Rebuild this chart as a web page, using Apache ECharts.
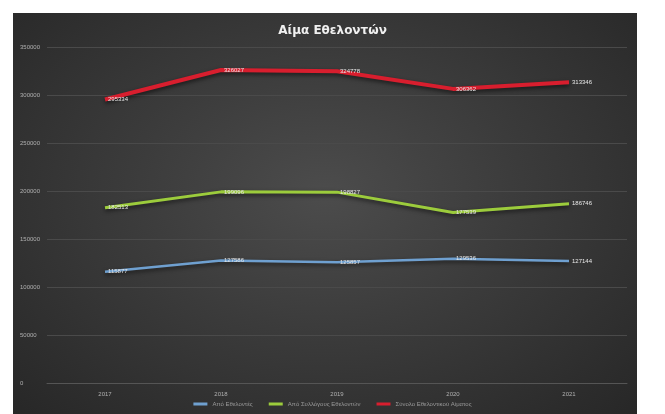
<!DOCTYPE html>
<html><head><meta charset="utf-8">
<script src="https://cdn.jsdelivr.net/npm/echarts@6/dist/echarts.min.js"></script>
<style>
html,body{margin:0;padding:0;background:#fff;}
#bg{position:absolute;left:13px;top:13px;width:624px;height:401px;
background:radial-gradient(ellipse at 50% 45%, #4c4c4c 0%, #3b3b3b 45%, #272727 100%);}
#c{position:absolute;left:0;top:0;width:665px;height:414px;}
</style></head>
<body><div id="bg"></div><div id="c"></div>
<script>
const years = ['2017','2018','2019','2020','2021'];
const seriesNames = ['Από Εθελοντές','Από Συλλόγους Εθελοντών','Σύνολο Εθελοντικού Αίματος'];
const fromVolunteers = [115877, 127586, 125857, 129536, 127144];
const fromAssociations = [182513, 199096, 198827, 177539, 186746];
const totalVolunteer = [295334, 326027, 324778, 306362, 313346];
const yTicks = [0, 50000, 100000, 150000, 200000, 250000, 300000, 350000];

const chart = echarts.init(document.getElementById('c'));
const lbl = {show:true, position:'right', distance:3, color:'#e8e8e8', fontSize:6, fontFamily:'Liberation Sans'};
chart.setOption({
  backgroundColor:'transparent',
  animation:false,
  title:{text:'Αίμα Εθελοντών', left:'center', top:20,
    textStyle:{color:'#f0f0f0', fontSize:12, fontWeight:'bold', fontFamily:'DejaVu Sans'}},
  grid:{left:47, right:38, top:47, bottom:31},
  legend:{bottom:2, left:'center', itemWidth:14, itemHeight:3, itemGap:16, icon:'rect',
    textStyle:{color:'#9a9a9a', fontSize:6, fontFamily:'Liberation Sans'}},
  xAxis:{type:'category', data:years, boundaryGap:true,
    axisLine:{lineStyle:{color:'#555555'}}, axisTick:{show:false},
    axisLabel:{color:'#b0b0b0', fontSize:6, margin:8, fontFamily:'Liberation Sans'}},
  yAxis:{type:'value', min:yTicks[0], max:yTicks[yTicks.length-1], interval:50000,
    axisLine:{show:false}, axisTick:{show:false},
    splitLine:{lineStyle:{color:'#4a4a4a', width:1}},
    axisLabel:{color:'#b0b0b0', fontSize:6, align:'left', margin:27, fontFamily:'Liberation Sans',
      formatter:v => String(v)}},
  series:[
    {name:seriesNames[0], type:'line', data:fromVolunteers, symbol:'circle', symbolSize:0,
     lineStyle:{color:'#6fa0d0', width:2.5, shadowColor:'rgba(0,0,0,0.6)', shadowBlur:4, shadowOffsetY:2},
     itemStyle:{color:'#6fa0d0'}, label:lbl},
    {name:seriesNames[1], type:'line', data:fromAssociations, symbol:'circle', symbolSize:0,
     lineStyle:{color:'#9ccc3c', width:3, shadowColor:'rgba(0,0,0,0.6)', shadowBlur:4, shadowOffsetY:2},
     itemStyle:{color:'#9ccc3c'}, label:lbl},
    {name:seriesNames[2], type:'line', data:totalVolunteer, symbol:'circle', symbolSize:0,
     lineStyle:{color:'#d81e2e', width:4, shadowColor:'rgba(0,0,0,0.6)', shadowBlur:4, shadowOffsetY:2},
     itemStyle:{color:'#d81e2e'}, label:lbl}
  ]
});
</script></body></html>
